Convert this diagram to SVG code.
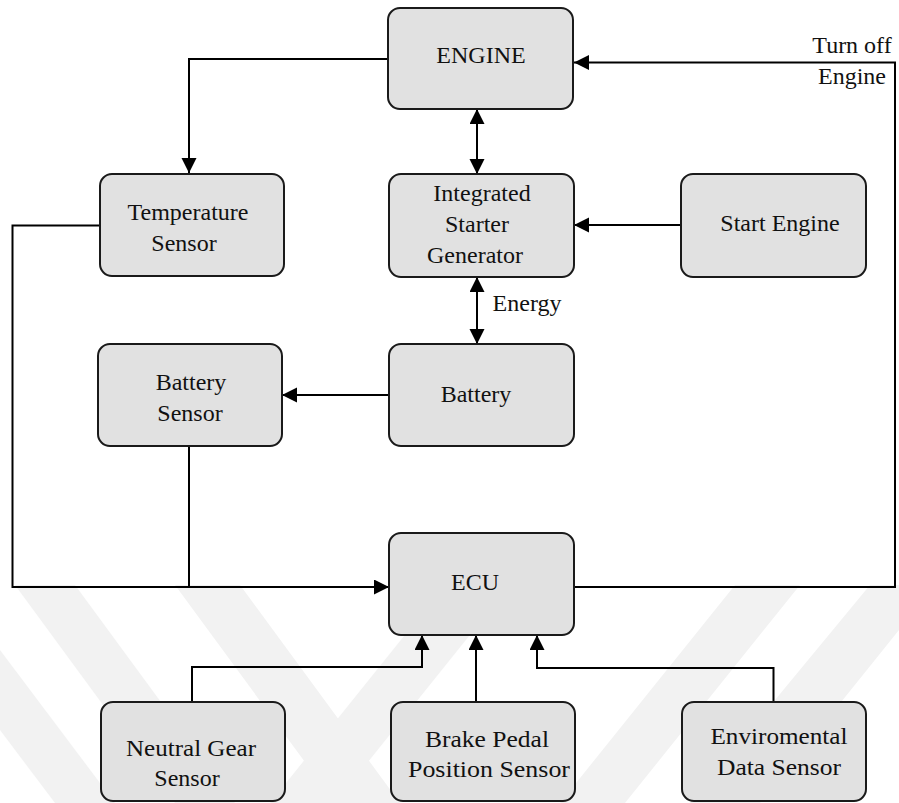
<svg xmlns="http://www.w3.org/2000/svg" width="899" height="803" viewBox="0 0 899 803">
  <style>
    .box { fill: #e1e1e1; stroke: #1a1a1a; stroke-width: 2; }
    .lbl { font-family: "Liberation Serif", "Times New Roman", serif; font-size: 24px; fill: #111; text-anchor: middle; }
    .wire { fill: none; stroke: #000; stroke-width: 2; }
    .mark { fill: #f2f2f2; }
  </style>
  <defs>
    <marker id="arrow" markerUnits="userSpaceOnUse" markerWidth="16" markerHeight="16" refX="15" refY="7.5" orient="auto-start-reverse">
      <path d="M0,0 L15,7.5 L0,15 Z" fill="#000"/>
    </marker>
  </defs>
  <rect width="899" height="803" fill="#fff"/>

  <!-- faint background watermark bands -->
  <g id="watermark">
    <polygon class="mark" points="15,585 75,585 235,803 175,803"/>
    <polygon class="mark" points="0,650 0,730 55,803 115,803"/>
    <polygon class="mark" points="175,585 240,585 400,803 335,803"/>
    <polygon class="mark" points="270,803 335,803 510,585 445,585"/>
    <polygon class="mark" points="560,803 625,803 800,585 735,585"/>
    <polygon class="mark" points="690,803 760,803 899,630 899,585 870,585"/>
  </g>

  <!-- connectors -->
  <g id="connectors">
    <path class="wire" d="M388,59 H189 V173" marker-end="url(#arrow)"/>
    <path class="wire" d="M574,587 H895 V62.5 H574" marker-end="url(#arrow)"/>
    <path class="wire" d="M477,109 V174" marker-start="url(#arrow)" marker-end="url(#arrow)"/>
    <path class="wire" d="M681,225 H574" marker-end="url(#arrow)"/>
    <path class="wire" d="M477,277 V344" marker-start="url(#arrow)" marker-end="url(#arrow)"/>
    <path class="wire" d="M389,395 H282" marker-end="url(#arrow)"/>
    <path class="wire" d="M100,225.5 H12.5 V587 H389" marker-end="url(#arrow)"/>
    <path class="wire" d="M189,446 V587"/>
    <path class="wire" d="M192,702 V667 H422 V635" marker-end="url(#arrow)"/>
    <path class="wire" d="M476,702 V635" marker-end="url(#arrow)"/>
    <path class="wire" d="M773.5,702 V668 H537 V635" marker-end="url(#arrow)"/>
    <text class="lbl" x="527" y="311">Energy</text>
    <text class="lbl" x="852" y="53">Turn off</text>
    <text class="lbl" x="852" y="84">Engine</text>
  </g>

  <g id="engine">
    <rect class="box" x="388" y="8" width="185" height="101" rx="12"/>
    <text class="lbl" x="481" y="63">ENGINE</text>
  </g>
  <g id="temperature-sensor">
    <rect class="box" x="100" y="174" width="184" height="102" rx="12"/>
    <text class="lbl" x="188" y="220">Temperature</text>
    <text class="lbl" x="184" y="251">Sensor</text>
  </g>
  <g id="starter-generator">
    <rect class="box" x="389" y="174" width="185" height="103" rx="12"/>
    <text class="lbl" x="482" y="201">Integrated</text>
    <text class="lbl" x="477" y="232">Starter</text>
    <text class="lbl" x="475" y="263">Generator</text>
  </g>
  <g id="start-engine">
    <rect class="box" x="681" y="174" width="185" height="103" rx="12"/>
    <text class="lbl" x="780" y="231">Start Engine</text>
  </g>
  <g id="battery-sensor">
    <rect class="box" x="98" y="344" width="184" height="102" rx="12"/>
    <text class="lbl" x="191" y="390">Battery</text>
    <text class="lbl" x="190" y="421">Sensor</text>
  </g>
  <g id="battery">
    <rect class="box" x="389" y="344" width="185" height="102" rx="12"/>
    <text class="lbl" x="476" y="402">Battery</text>
  </g>
  <g id="ecu">
    <rect class="box" x="389" y="533" width="185" height="102" rx="12"/>
    <text class="lbl" x="475" y="590">ECU</text>
  </g>
  <g id="neutral-gear-sensor">
    <rect class="box" x="101" y="702" width="184" height="99" rx="12"/>
    <text class="lbl" x="191" y="756" textLength="130" lengthAdjust="spacingAndGlyphs">Neutral Gear</text>
    <text class="lbl" x="187" y="786">Sensor</text>
  </g>
  <g id="brake-pedal-sensor">
    <rect class="box" x="391" y="702" width="184" height="99" rx="12"/>
    <text class="lbl" x="487" y="747" textLength="124" lengthAdjust="spacingAndGlyphs">Brake Pedal</text>
    <text class="lbl" x="489" y="777" textLength="162" lengthAdjust="spacingAndGlyphs">Position Sensor</text>
  </g>
  <g id="enviromental-data-sensor">
    <rect class="box" x="682" y="702" width="184" height="99" rx="12"/>
    <text class="lbl" x="779" y="744" textLength="137" lengthAdjust="spacingAndGlyphs">Enviromental</text>
    <text class="lbl" x="779" y="775" textLength="124" lengthAdjust="spacingAndGlyphs">Data Sensor</text>
  </g>
</svg>
